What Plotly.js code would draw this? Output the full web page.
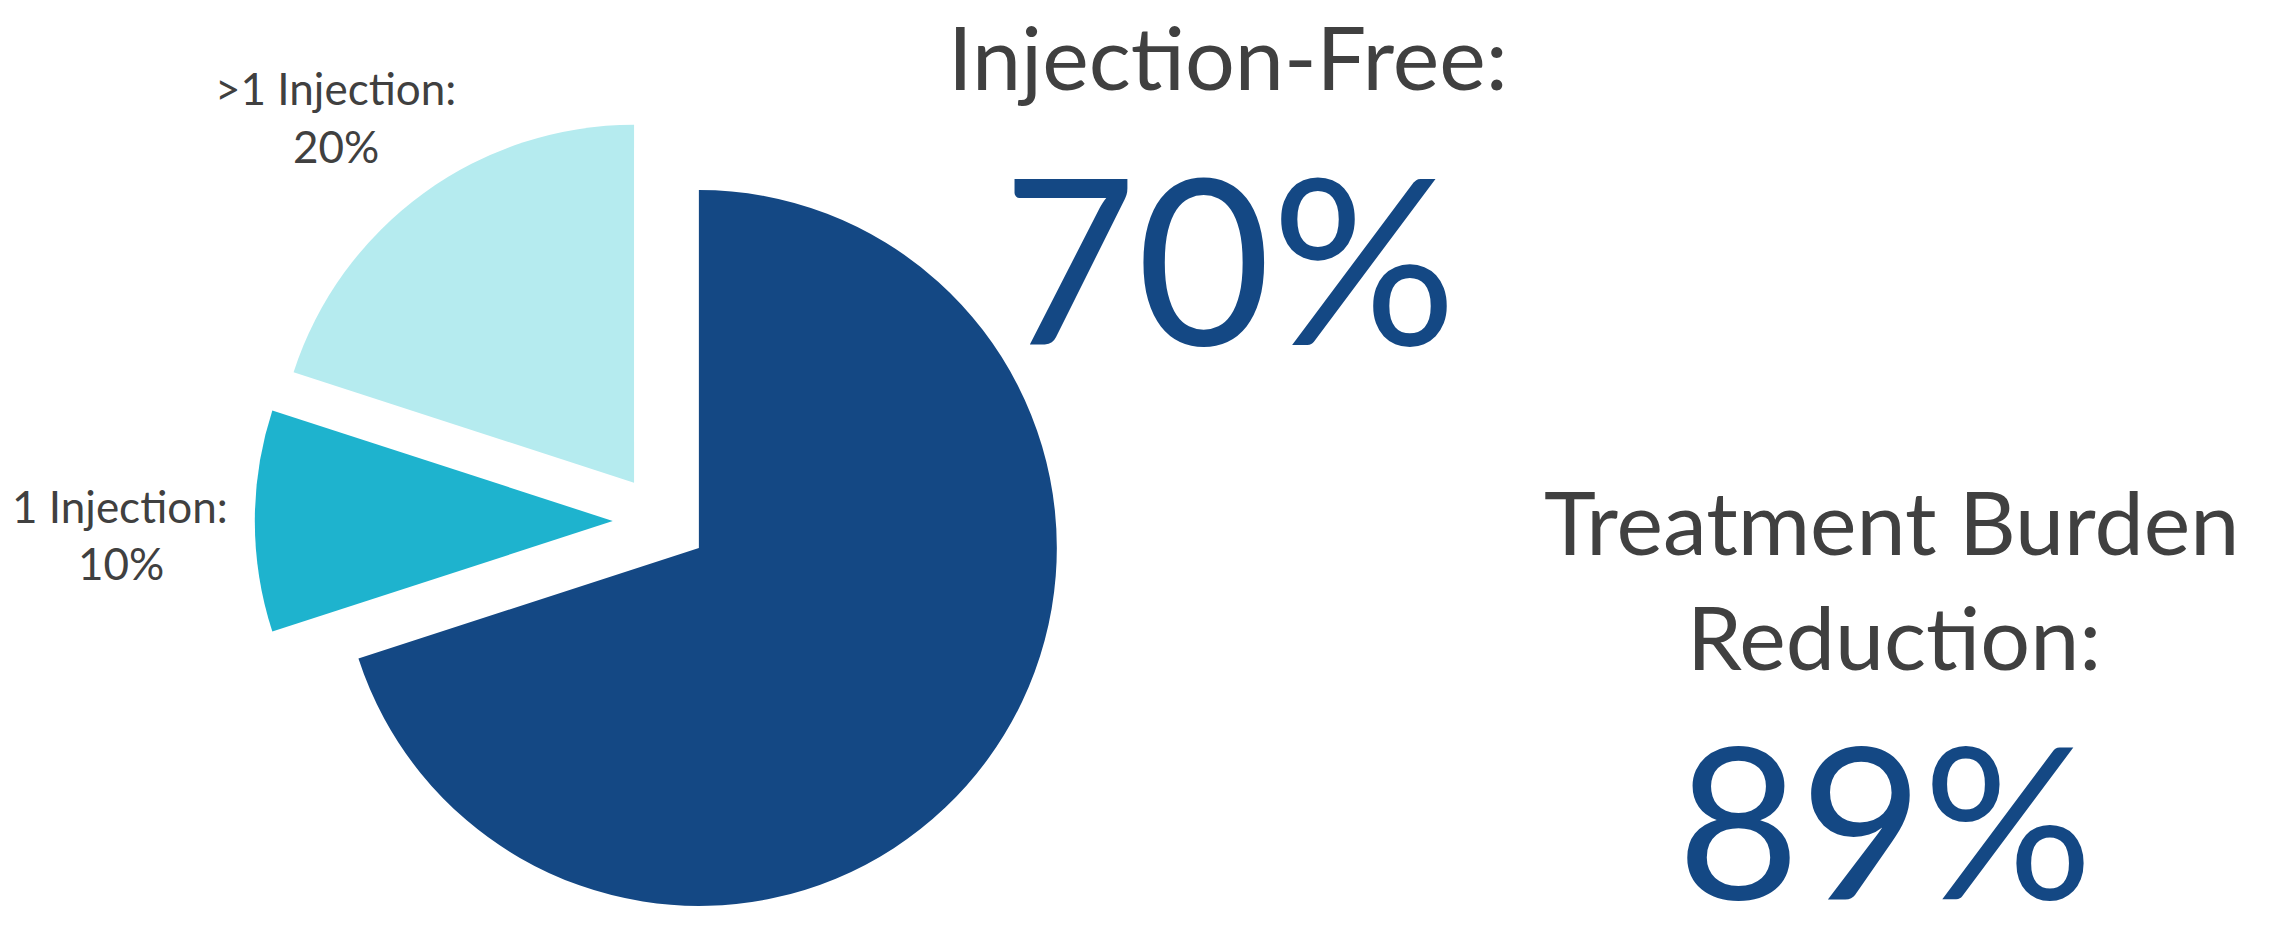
<!DOCTYPE html>
<html>
<head>
<meta charset="utf-8">
<script src="https://cdn.plot.ly/plotly-3.0.1.min.js"></script>
<style>html,body{margin:0;padding:0;background:#fff;overflow:hidden}#chart{width:2270px;height:946px}</style>
</head>
<body>
<div id="chart"></div>
<script>
// ---- data ----
const categories = ["Injection-Free", "1 Injection", ">1 Injection"];
const values = [70, 10, 20];
const sliceLabelText = ["", "1 Injection:", ">1 Injection:"];
const statLabels = ["Injection-Free:", "Treatment Burden", "Reduction:"];
const statValues = ["70%", "89%"];

// ---- styles ----
const sliceColors = ["#144884", "#1EB3CE", "#B5EBEF"];
const slicePull = [0.128, 0.137, 0.132];
const textGray = "#404040";
const statBlue = "#144884";
const FONT = "Lato, 'Open Sans', sans-serif";
const W = 2270, H = 946;
const px = x => x / W;
const py = y => 1 - y / H;

function ann(text, x, y, size, color, yanchor) {
  return {text: text, xref: "paper", yref: "paper", x: px(x), y: py(y),
          xanchor: "center", yanchor: yanchor || "middle", showarrow: false,
          borderpad: 0,
          font: {family: FONT, size: size, color: color}};
}

const annotations = [
  ann(sliceLabelText[2], 335, 88, 44, textGray),
  ann(values[2] + "%", 336, 146, 44, textGray),
  ann(sliceLabelText[1], 120, 506, 44, textGray),
  ann(values[1] + "%", 121, 563, 44, textGray),
  ann(statLabels[0], 1228, 2, 88, textGray, "top"),
  ann(statValues[0], 1229, 255, 232, statBlue),
  ann(statLabels[1], 1891, 521, 88, textGray),
  ann(statLabels[2], 1894, 636, 88, textGray),
  ann(statValues[1], 1885, 945, 212, statBlue, "bottom")
];

const trace = {
  type: "pie",
  labels: categories,
  values: values,
  sort: false,
  direction: "clockwise",
  rotation: 0,
  pull: slicePull,
  textinfo: "none",
  hoverinfo: "skip",
  marker: {colors: sliceColors, line: {width: 0}},
  domain: {x: [0.11225, 0.47084], y: [0.01903, 0.87949]}
};

const layout = {
  width: W, height: H,
  margin: {l: 0, r: 0, t: 0, b: 0},
  paper_bgcolor: "#ffffff",
  plot_bgcolor: "#ffffff",
  showlegend: false,
  annotations: annotations
};

Plotly.newPlot("chart", [trace], layout, {displayModeBar: false, staticPlot: true});
</script>
</body>
</html>
